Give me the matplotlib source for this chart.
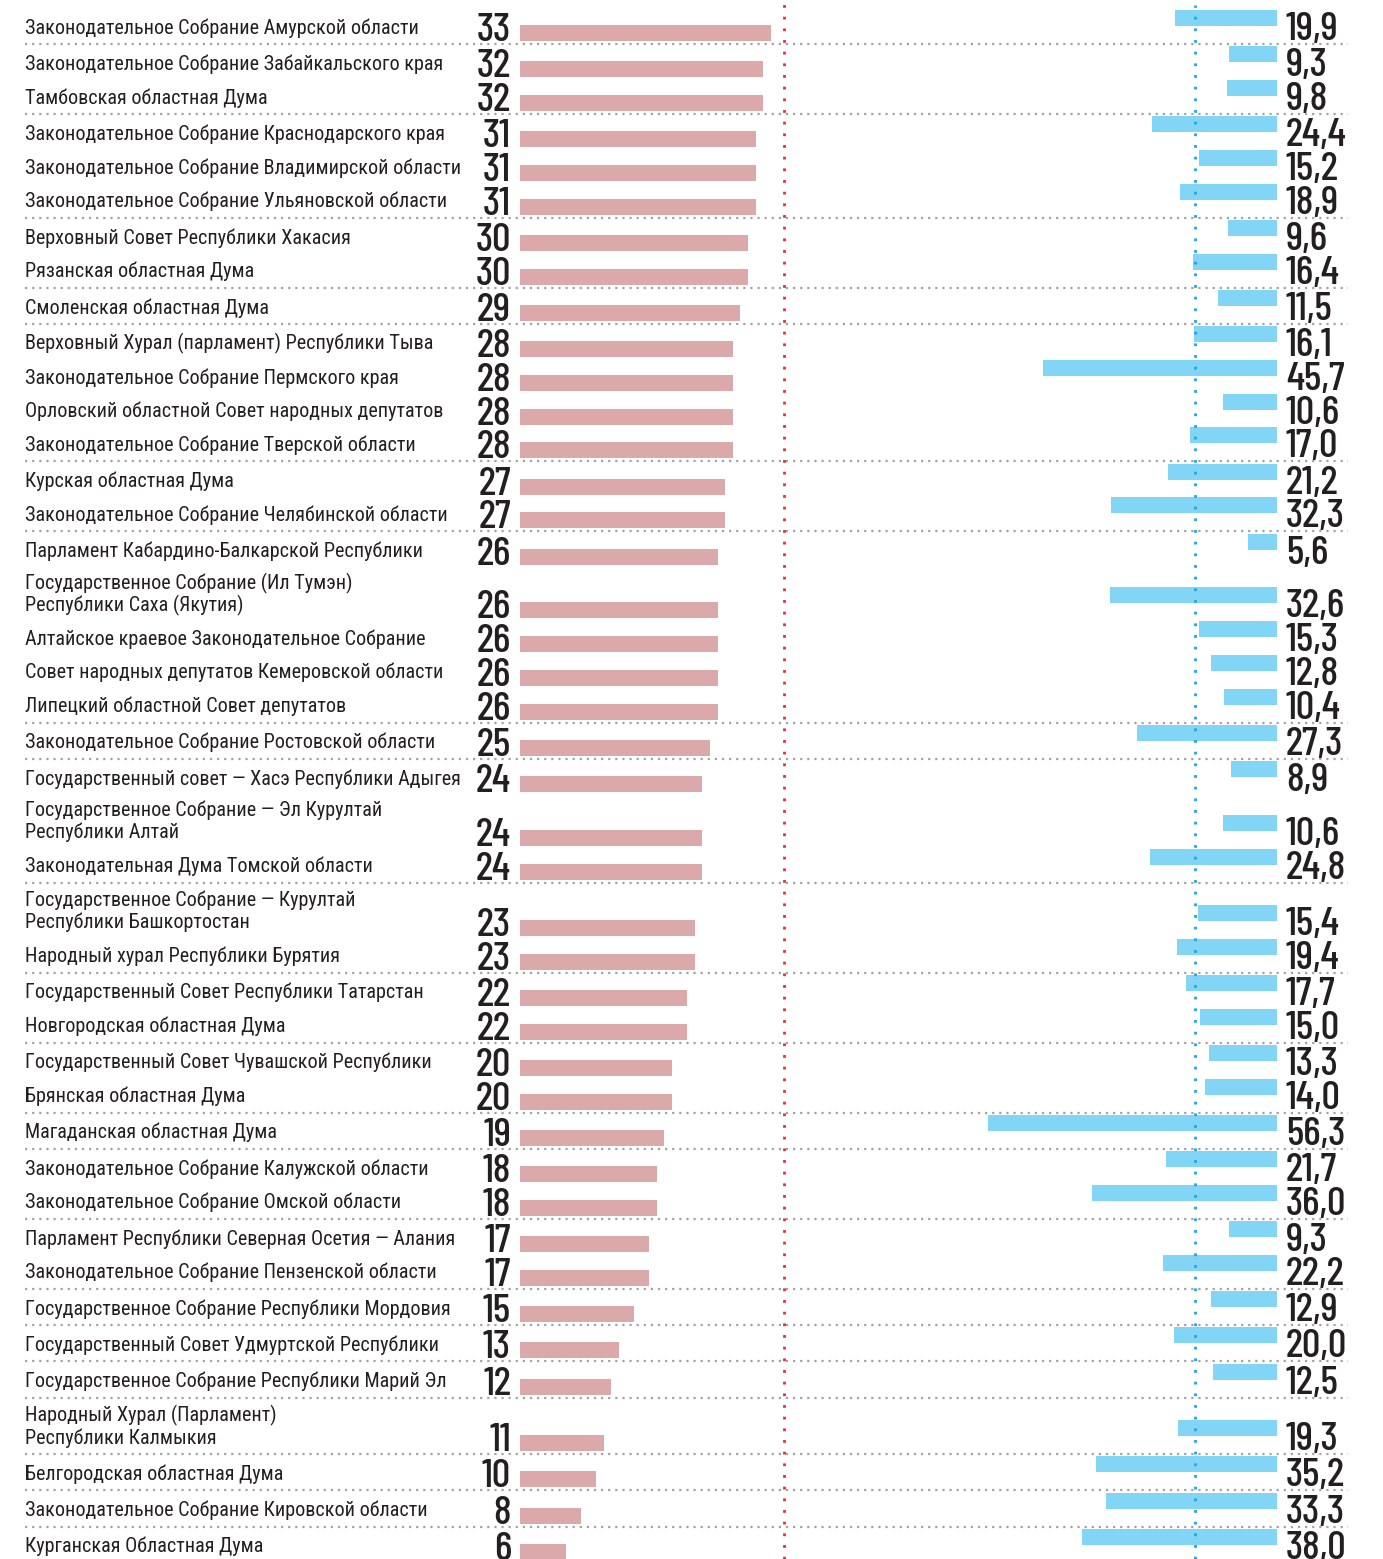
import matplotlib
matplotlib.use('Agg')
import matplotlib.pyplot as plt

names = [
    "Законодательное Собрание Амурской области",
    "Законодательное Собрание Забайкальского края",
    "Тамбовская областная Дума",
    "Законодательное Собрание Краснодарского края",
    "Законодательное Собрание Владимирской области",
    "Законодательное Собрание Ульяновской области",
    "Верховный Совет Республики Хакасия",
    "Рязанская областная Дума",
    "Смоленская областная Дума",
    "Верховный Хурал (парламент) Республики Тыва",
    "Законодательное Собрание Пермского края",
    "Орловский областной Совет народных депутатов",
    "Законодательное Собрание Тверской области",
    "Курская областная Дума",
    "Законодательное Собрание Челябинской области",
    "Парламент Кабардино-Балкарской Республики",
    "Государственное Собрание (Ил Тумэн)\nРеспублики Саха (Якутия)",
    "Алтайское краевое Законодательное Собрание",
    "Совет народных депутатов Кемеровской области",
    "Липецкий областной Совет депутатов",
    "Законодательное Собрание Ростовской области",
    "Государственный совет — Хасэ Республики Адыгея",
    "Государственное Собрание — Эл Курултай\nРеспублики Алтай",
    "Законодательная Дума Томской области",
    "Государственное Собрание — Курултай\nРеспублики Башкортостан",
    "Народный хурал Республики Бурятия",
    "Государственный Совет Республики Татарстан",
    "Новгородская областная Дума",
    "Государственный Совет Чувашской Республики",
    "Брянская областная Дума",
    "Магаданская областная Дума",
    "Законодательное Собрание Калужской области",
    "Законодательное Собрание Омской области",
    "Парламент Республики Северная Осетия — Алания",
    "Законодательное Собрание Пензенской области",
    "Государственное Собрание Республики Мордовия",
    "Государственный Совет Удмуртской Республики",
    "Государственное Собрание Республики Марий Эл",
    "Народный Хурал (Парламент)\nРеспублики Калмыкия",
    "Белгородская областная Дума",
    "Законодательное Собрание Кировской области",
    "Курганская Областная Дума",
]

seats = [33, 32, 32, 31, 31, 31, 30, 30, 29, 28, 28, 28, 28, 27, 27,
         26, 26, 26, 26, 26, 25, 24, 24, 24, 23, 23, 22, 22, 20, 20,
         19, 18, 18, 17, 17, 15, 13, 12, 11, 10, 8, 6]

share = [19.9, 9.3, 9.8, 24.4, 15.2, 18.9, 9.6, 16.4, 11.5, 16.1, 45.7,
         10.6, 17.0, 21.2, 32.3, 5.6, 32.6, 15.3, 12.8, 10.4, 27.3, 8.9,
         10.6, 24.8, 15.4, 19.4, 17.7, 15.0, 13.3, 14.0, 56.3, 21.7, 36.0,
         9.3, 22.2, 12.9, 20.0, 12.5, 19.3, 35.2, 33.3, 38.0]

seats_ref = 34.7   # red dotted reference
share_ref = 16.0   # blue dotted reference

def fmt(v):
    return f"{v:.1f}".replace('.', ',')

W, H = 1383, 1559
fig = plt.figure(figsize=(W / 100, H / 100), dpi=100)
fig.patch.set_facecolor('white')

# row layout (pixel units)
STEP, SEP, EXTRA = 33.7, 2.6, 20.0
ys = []
y = 33.0
for i, n in enumerate(names):
    if i > 0:
        y += STEP
        if seats[i] != seats[i - 1]:
            y += SEP
        if '\n' in n:
            y += EXTRA
    ys.append(y)

NAME_FONT = ['Roboto Condensed', 'DejaVu Sans']
NUM_FONT = ['Barlow Condensed', 'Roboto Condensed', 'DejaVu Sans']
TXT = '#231f20'
PINK = '#dba9aa'
BLUE = '#83d5f6'

base = fig.add_axes([0, 0, 1, 1])
base.set_xlim(0, W)
base.set_ylim(H, 0)
base.axis('off')

# pink axes
px_left, px_right, px_per = 520, 800, 7.6
axp = fig.add_axes([px_left / W, 0, (px_right - px_left) / W, 1])
axp.set_xlim(0, (px_right - px_left) / px_per)
axp.set_ylim(H, 0)
axp.axis('off')
axp.barh(ys, seats, height=16, left=0, color=PINK)
axp.axvline(seats_ref, color='#e0303a', lw=2, linestyle=(0, (1, 3.2)))

# blue axes
bx_right, bx_width, bx_per = 1277, 330, 5.13
axb = fig.add_axes([(bx_right - bx_width) / W, 0, bx_width / W, 1])
axb.set_xlim(bx_width / bx_per, 0)
axb.set_ylim(H, 0)
axb.axis('off')
axb.barh([v - 15 for v in ys], share, height=16, color=BLUE)
axb.axvline(share_ref, color='#1ea6df', lw=2, linestyle=(0, (1, 3.2)), ymin=0, ymax=0.997)

# texts
for i, (n, s, v, yy) in enumerate(zip(names, seats, share, ys)):
    lines = n.split('\n')
    for k, ln in enumerate(reversed(lines)):
        base.text(25, yy + 0.5 - 22 * k, ln, fontsize=14.5, family=NAME_FONT,
                  color=TXT, va='baseline', ha='left')
    base.text(511, yy + 8, str(s), fontsize=29.5, family=NUM_FONT, weight=500,
              color=TXT, va='baseline', ha='right')
    base.text(1286, yy + 7, fmt(v), fontsize=29.5, family=NUM_FONT, weight=500,
              color=TXT, va='baseline', ha='left')
    # separators between groups
    if i < len(names) - 1 and seats[i + 1] != s:
        base.plot([25, 1348], [yy + 11, yy + 11], color='#a3a3a3', lw=1.6,
                  linestyle=(0, (1, 2.2)), solid_capstyle='round')

fig.savefig('out.png', dpi=100, facecolor='white')
